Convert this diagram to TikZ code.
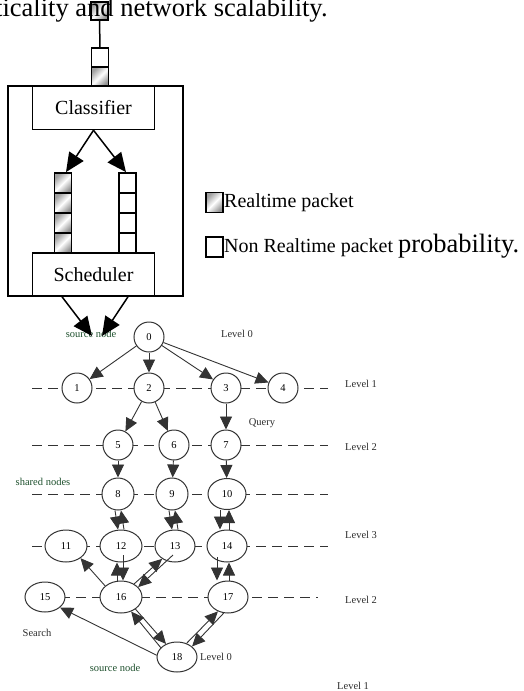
\documentclass[tikz,border=0pt]{standalone}
\usepackage{fontspec}
\setmainfont{Liberation Serif}
\usetikzlibrary{arrows.meta,shapes.geometric}
\newcommand{\bigtxt}{\fontsize{26.5pt}{30pt}\selectfont}
\newcommand{\midtxt}{\fontsize{20pt}{24pt}\selectfont}
\newcommand{\smltxt}{\fontsize{10.5pt}{12pt}\selectfont}
\definecolor{lbl}{RGB}{45,45,45}
\definecolor{grn}{RGB}{30,80,45}

\begin{document}
\begin{tikzpicture}[x=1pt,y=-1pt,
  box/.style={draw, line width=1.5pt, minimum width=122pt, minimum height=43pt, inner sep=0pt, font=\midtxt},
  rtcell/.style={draw, line width=1.8pt, inner sep=0pt, minimum width=17pt, minimum height=20pt,
                 top color=gray!75, bottom color=gray!85, middle color=white, shading angle=45},
  nrcell/.style={draw, line width=1.8pt, inner sep=0pt, minimum width=17pt, minimum height=20pt, fill=white},
  bigarr/.style={-{Triangle[length=19pt,width=17pt]}, line width=1.5pt},
  gn/.style={circle, draw=black!80, line width=1pt, fill=white, minimum size=30pt, inner sep=0pt, font=\smltxt},
  en/.style={ellipse, draw=black!80, line width=1pt, fill=white, minimum width=40pt, minimum height=32pt, inner sep=0pt, font=\smltxt},
  lvl/.style={dash pattern=on 10pt off 6pt, line width=1pt, draw=black!80},
  arr/.style={-{Triangle[length=13pt,width=12pt]}, line width=0.9pt, draw=black!80},
  tag/.style={font=\smltxt, text=lbl, inner sep=0pt},
  gtag/.style={font=\smltxt, text=grn, inner sep=0pt},
]
\useasboundingbox (0,0) rectangle (524,691);

% ---------- packet path into the node ----------
\node[rtcell, minimum height=18pt] (tp) at (99.5,11) {};
\node[anchor=base west, inner sep=0pt, font=\bigtxt] (line) at (-5,16.5) {ticality and network scalability.};
\node[nrcell, minimum height=19pt] (wp) at (100,57.5) {};
\node[rtcell, minimum height=19pt] (gp) at (100,76.5) {};
\draw[line width=1.5pt] (tp.south) -- (wp.north);

% ---------- node internals ----------
\node[draw, line width=1.5pt, minimum width=175pt, minimum height=210pt, inner sep=0pt] (frame) at (95.5,191) {};
\node[box] (cls) at (93.5,108) {Classifier};
\node[box] (sch) at (93.5,274.5) {Scheduler};

\foreach \i/\y in {1/183,2/203,3/223,4/243}{
  \node[rtcell] (lq\i) at (63,\y) {};
  \node[nrcell] (rq\i) at (127.5,\y) {};
}

\draw[bigarr] (cls.south) -- ([xshift=3pt]lq1.north);
\draw[bigarr] (cls.south) -- ([xshift=-1.5pt]rq1.north);

% ---------- legend ----------
\node[rtcell, minimum height=20pt] (kr) at (214.5,202.5) {};
\node[anchor=base west, inner sep=0pt, font=\midtxt] (krt) at (224,207.5) {Realtime packet};
\node[nrcell] (kn) at (214.5,247) {};
\node[anchor=base west, inner sep=0pt] (knt) at (224,252.5) {\midtxt Non Realtime packet {\bigtxt probability.}};

% ---------- level lines ----------
\draw[lvl] (32,388) -- (328,388);
\draw[lvl] (32,445) -- (328,445);
\draw[lvl] (32,494) -- (328,494);
\draw[lvl] (32,546) -- (328,546);
\draw[lvl] (60,597) -- (318,597);

% ---------- overlay nodes ----------
\node[gn] (n0) at (149,337) {0};
\node[gn] (n1) at (77,388) {1};
\node[gn] (n2) at (149,388) {2};
\node[gn] (n3) at (226,388) {3};
\node[gn] (n4) at (283,388) {4};
\node[gn] (n5) at (118,445) {5};
\node[gn] (n6) at (174,445) {6};
\node[gn] (n7) at (226,445) {7};
\node[gn, minimum size=32pt] (n8) at (118,494) {8};
\node[gn, minimum size=32pt] (n9) at (172,494) {9};
\node[en, minimum width=38pt, minimum height=31pt] (n10) at (227,494) {10};
\node[en, minimum width=42pt] (n11) at (66,546) {11};
\node[en, minimum width=42pt] (n12) at (121,546) {12};
\node[en] (n13) at (175,546) {13};
\node[en] (n14) at (227,546) {14};
\node[en, minimum height=30pt] (n15) at (45,597) {15};
\node[en, minimum width=42pt] (n16) at (121,597) {16};
\node[en] (n17) at (228,597) {17};
\node[en, minimum height=30pt] (n18) at (177,657) {18};

% ---------- labels ----------
\node[gtag] (src1) at (91,334) {source node};
\node[tag] (lv0a) at (237,334) {Level 0};
\node[tag, anchor=west] (lv1a) at (345,384) {Level 1};
\node[tag] (qry) at (262,423) {Query};
\node[tag, anchor=west] (lv2a) at (345,447) {Level 2};
\node[gtag] (shr) at (43,482) {shared nodes};
\node[tag, anchor=west] (lv3) at (345,535) {Level 3};
\node[tag, anchor=west] (lv2b) at (345,600) {Level 2};
\node[tag] (srch) at (37,633) {Search};
\node[tag, anchor=west] (lv0b) at (200,657) {Level 0};
\node[gtag] (src2) at (115,668) {source node};
\node[tag, anchor=west] (lv1b) at (337,686) {Level 1};

% ---------- scheduler output ----------
\coordinate (tl) at (92,336);
\coordinate (tr) at (102,336);
\draw[bigarr] ([xshift=-31.5pt]sch.south) -- (tl);
\draw[bigarr] ([xshift=34.5pt]sch.south) -- (tr);

% ---------- query propagation ----------
\draw[arr] (n0) -- (n1);
\draw[arr] (n0) -- (n2);
\draw[arr] (n0) -- (n3);
\draw[arr] (n0) -- (n4);
\draw[arr] (n2) -- (n5);
\draw[arr] (n2) -- (n6);
\draw[arr] (n3) -- (n7);
\draw[arr] (n5) -- (n8);
\draw[arr] (n6) -- (n9);
\draw[arr] (n7) -- (n10);

% two-way links between the shaped nodes and the rows below
\draw[arr] ([xshift=-3pt]n8.south) -- ([xshift=-3pt]n12.north);
\draw[arr] ([xshift=3pt]n12.north) -- ([xshift=3pt]n8.south);
\draw[arr] ([xshift=-3pt]n9.south) -- ([xshift=-3pt]n13.north);
\draw[arr] ([xshift=3pt]n13.north) -- ([xshift=3pt]n9.south);
\draw[arr] ([xshift=-7pt]n10.south) -- ([xshift=-7pt]n14.north);
\draw[arr] ([xshift=2pt]n14.north) -- ([xshift=2pt]n10.south);

\draw[arr] ([xshift=-4pt]n16.north) -- ([xshift=-4pt]n12.south);
\draw[arr] ([xshift=2pt,yshift=-9pt]n12.center) -- ([xshift=2pt]n16.north);
\draw[arr] (n16.45) -- (n13.225);
\draw[arr] ([xshift=-2pt,yshift=-9pt]n13.center) -- (n16.30);
\draw[arr] (n16.145) -- (n11.-40);
\draw[arr] ([xshift=-10pt,yshift=-11pt]n14.center) -- ([xshift=-11pt]n17.north);
\draw[arr] ([xshift=1pt]n17.north) -- ([xshift=2pt]n14.south);

% links out of the bottom source node
\draw[arr] (n18.175) -- (n15.-35);
\draw[arr] (n16.-40) -- (n18.130);
\draw[arr] (n18.150) -- (n16.-55);
\draw[arr] (n18.55) -- (n17.235);
\draw[arr] (n17.255) -- (n18.35);
\end{tikzpicture}
\end{document}
